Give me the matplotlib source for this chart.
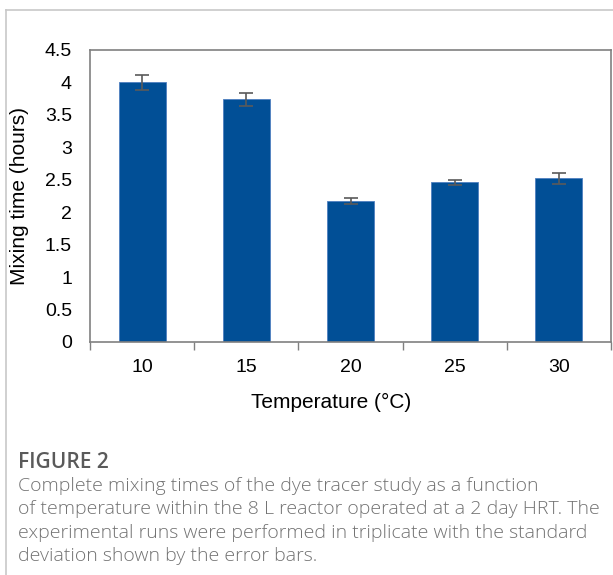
import matplotlib.pyplot as plt
from matplotlib.lines import Line2D

# Mixing times per temperature (mean of triplicate runs, std dev)
temperatures = ["10", "15", "20", "25", "30"]
mixing_time = [4.00, 3.74, 2.17, 2.46, 2.52]
std_dev = [0.12, 0.10, 0.05, 0.04, 0.08]

caption_title = "FIGURE 2"
caption_lines = [
    "Complete mixing times of the dye tracer study as a function",
    "of temperature within the 8 L reactor operated at a 2 day HRT. The",
    "experimental runs were performed in triplicate with the standard",
    "deviation shown by the error bars.",
]

plt.rcParams["font.family"] = ["Liberation Sans", "DejaVu Sans"]

fig = plt.figure(figsize=(6.13, 5.75), dpi=100)
ax = fig.add_axes([90 / 613, 1 - 342 / 575, 521 / 613, 292 / 575])

x = range(len(temperatures))
ax.bar(x, mixing_time, width=0.45, color="#014f96", edgecolor="#4f7fc0", linewidth=0.6,
       yerr=std_dev, capsize=4.8,
       error_kw=dict(ecolor="#5a5a5a", elinewidth=1.2, capthick=1.2))

ax.set_xlim(-0.5, len(temperatures) - 0.5)
ax.set_ylim(0, 4.5)
ax.set_yticks([0, 0.5, 1, 1.5, 2, 2.5, 3, 3.5, 4, 4.5])
ax.set_yticklabels(["0", "0.5", "1", "1.5", "2", "2.5", "3", "3.5", "4", "4.5"])
ax.tick_params(axis="y", length=0, pad=13, labelsize=14)

# category labels centred under bars, tick marks between categories
ax.set_xticks(list(x))
ax.set_xticklabels(temperatures)
ax.tick_params(axis="x", length=0, pad=12, labelsize=14)
ax.set_xticks([i - 0.5 for i in range(len(temperatures) + 1)], minor=True)
ax.tick_params(axis="x", which="minor", length=6, color="#808080", width=1)

for side in ["left", "right", "top", "bottom"]:
    ax.spines[side].set_color("#808080")
    ax.spines[side].set_linewidth(1.2)

ax.set_xlabel("Temperature (°C)", fontsize=15)
ax.xaxis.set_label_coords(0.463, -0.175)
ax.set_ylabel("Mixing time (hours)", fontsize=15)
ax.yaxis.set_label_coords(-0.117, 0.5)

# card outline
fig.add_artist(Line2D([6 / 613, 1], [1 - 10 / 575] * 2, color="#c8c8c8", lw=1.2))
fig.add_artist(Line2D([6 / 613] * 2, [0, 1 - 10 / 575], color="#c8c8c8", lw=1.2))

fig.text(18 / 613, 1 - 462 / 575, caption_title, fontsize=15, color="#5a5a5a",
         family=["Open Sans", "DejaVu Sans"], fontweight="semibold", va="center")
for i, line in enumerate(caption_lines):
    fig.text(18 / 613, 1 - (486 + i * 23.3) / 575, line, fontsize=14, color="#727272",
             family=["Open Sans", "DejaVu Sans"], fontweight="light", va="center")

fig.savefig("out.png", dpi=100)
